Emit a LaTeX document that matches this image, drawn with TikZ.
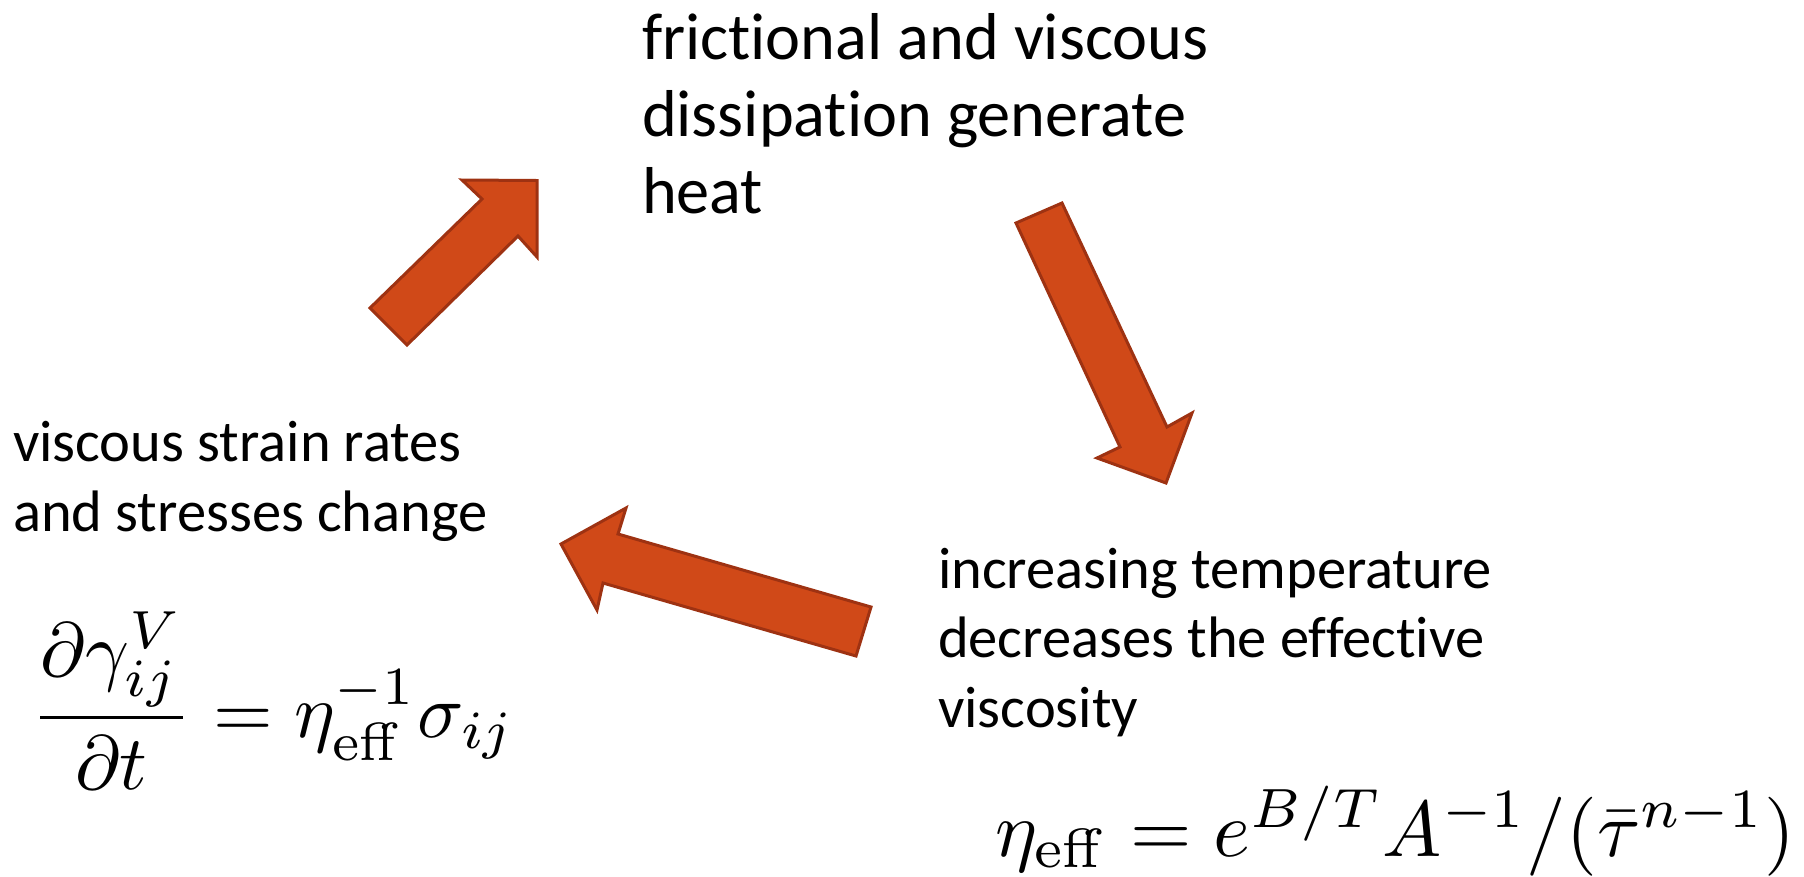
\documentclass[tikz,border=0pt]{standalone}
\usepackage{graphicx}
\usepackage[no-math]{fontspec}
\setmainfont{Carlito}[Ligatures=NoCommon]
\definecolor{arrowfill}{RGB}{208,73,24}
\definecolor{arrowline}{RGB}{158,50,18}
\tikzset{
  bigarrow/.style={fill=arrowfill, draw=arrowline, line width=3pt, line join=miter},
  label/.style={inner sep=0pt, outer sep=0pt, anchor=base west, align=left,
    font=\fontsize{58.5}{69.5}\selectfont},
  biglabel/.style={label, font=\fontsize{66.3}{77}\selectfont},
  eqn/.style={inner sep=0pt, outer sep=0pt, anchor=base west}
}
\begin{document}
\begin{tikzpicture}[x=1pt,y=-1pt]
\useasboundingbox (0,0) rectangle (1804,876);
% labels (anchor = baseline of the last line)
\node[biglabel] (heat) at (642,213) {frictional and viscous\\dissipation generate\\heat};
\node[label] (temp) at (938,727) {increasing temperature\\decreases the effective\\viscosity};
\node[label] (strain) at (13,531) {viscous strain rates\\and stresses change};
% equations
\node[eqn] (eqA) at (31,737) {\resizebox{484pt}{!}{$\displaystyle\frac{\partial\gamma^V_{ij}}{\partial t}=\eta_{\mathrm{eff}}^{-1}\sigma_{ij}$}};
\node[eqn] (eqB) at (995,856) {\resizebox{800pt}{!}{$\eta_{\mathrm{eff}}=e^{B/T}A^{-1}/(\bar{\tau}^{n-1})$}};
% arrows
\draw[bigarrow] (370,308) -- (482,199) -- (462,180) -- (537,180.5) -- (537,257) -- (518,236) -- (407,345) -- cycle;
\draw[bigarrow] (1016,223) -- (1062,203) -- (1167,427) -- (1192,413) -- (1166,483) -- (1097,458) -- (1120,447) -- cycle;
\draw[bigarrow] (871,607) -- (856,656) -- (603,583) -- (597,610) -- (561,544) -- (626,508) -- (618,534) -- cycle;
\end{tikzpicture}
\end{document}
